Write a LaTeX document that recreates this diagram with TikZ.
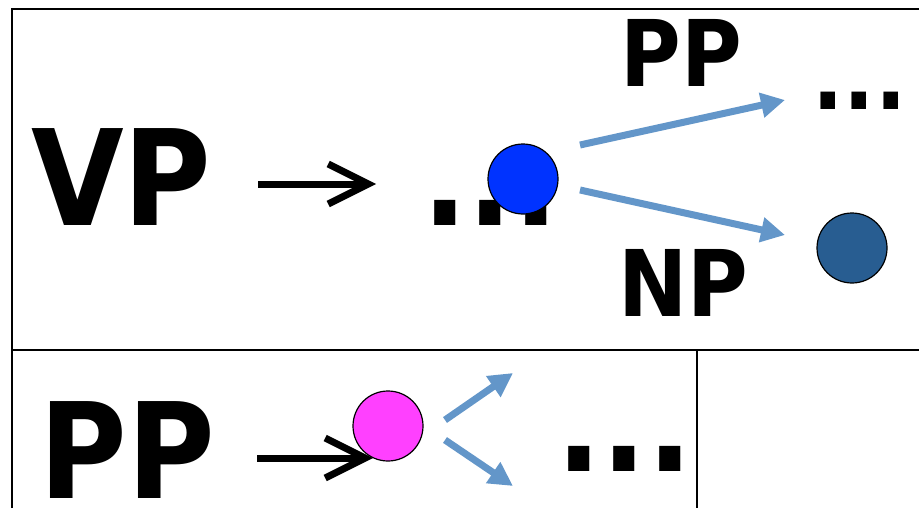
\documentclass[tikz,border=0pt]{standalone}
\usepackage{fontspec}
\usepackage{xcolor}
\usepackage{tikz}
\usetikzlibrary{arrows.meta,positioning}
\newfontfamily\diagfont{DejaVu Sans Condensed}
\definecolor{arrowblue}{RGB}{99,150,201}
\definecolor{dotblue}{RGB}{0,51,255}
\definecolor{dotnavy}{RGB}{40,93,145}
\definecolor{dotpink}{RGB}{255,64,255}

\begin{document}
\begin{tikzpicture}[
  x=0.5pt,y=-0.5pt,
  frame/.style={line width=1.2pt},
  cat/.style={anchor=base west,inner sep=0pt,text depth=0pt,font=\diagfont\bfseries\fontsize{66.5}{70}\selectfont},
  lbl/.style={anchor=base west,inner sep=0pt,text depth=0pt,font=\diagfont\bfseries\fontsize{46}{50}\selectfont},
  dot/.style={circle,draw,line width=0.6pt,minimum size=35pt,inner sep=0pt},
  rewrite/.style={line width=3.5pt,-{Straight Barb[length=20pt,width=20pt]}},
  branch/.style={arrowblue,line width=3.5pt,-{Triangle[length=12pt,width=12pt]}}
]
\useasboundingbox (0,0) rectangle (919,508);
% table rules
\draw[frame] (12,508) -- (12,9) -- (919,9);
\draw[frame] (12,350) -- (919,350);
\draw[frame] (697,350) -- (697,508);
% VP row
\node[cat] (vp) at (31,225) {VP};
\node[cat] (vpdots) at (422,225) {...};
\coordinate (vpTail) at (258,184);
\coordinate (vpHead) at (376,184);
\draw[rewrite] (vpTail) -- (vpHead);
\node[dot,fill=dotblue] (vpnode) at (523,179) {};
\node[lbl] (pplbl) at (620,87) {PP};
\node[lbl] (nplbl) at (618,316) {NP};
\node[lbl] (ppdots) at (812,110) {...};
\node[dot,fill=dotnavy] (npnode) at (852,248) {};
\coordinate (ppTail) at (580,145);
\coordinate (ppHead) at (785,100);
\coordinate (npTail) at (580,190);
\coordinate (npHead) at (785,235);
\draw[branch] (ppTail) -- (ppHead);
\draw[branch] (npTail) -- (npHead);
% PP row
\node[cat] (pp) at (39,498) {PP};
\coordinate (ppRwTail) at (257,458);
\coordinate (ppRwHead) at (373,458);
\draw[rewrite] (ppRwTail) -- (ppRwHead);
\node[dot,fill=dotpink] (ppnode) at (388,426) {};
\coordinate (upTail) at (445,420);
\coordinate (upHead) at (513,373);
\coordinate (downTail) at (445,440);
\coordinate (downHead) at (513,486);
\draw[branch] (upTail) -- (upHead);
\draw[branch] (downTail) -- (downHead);
\node[cat] (ppdots2) at (556,471) {...};
\end{tikzpicture}
\end{document}
